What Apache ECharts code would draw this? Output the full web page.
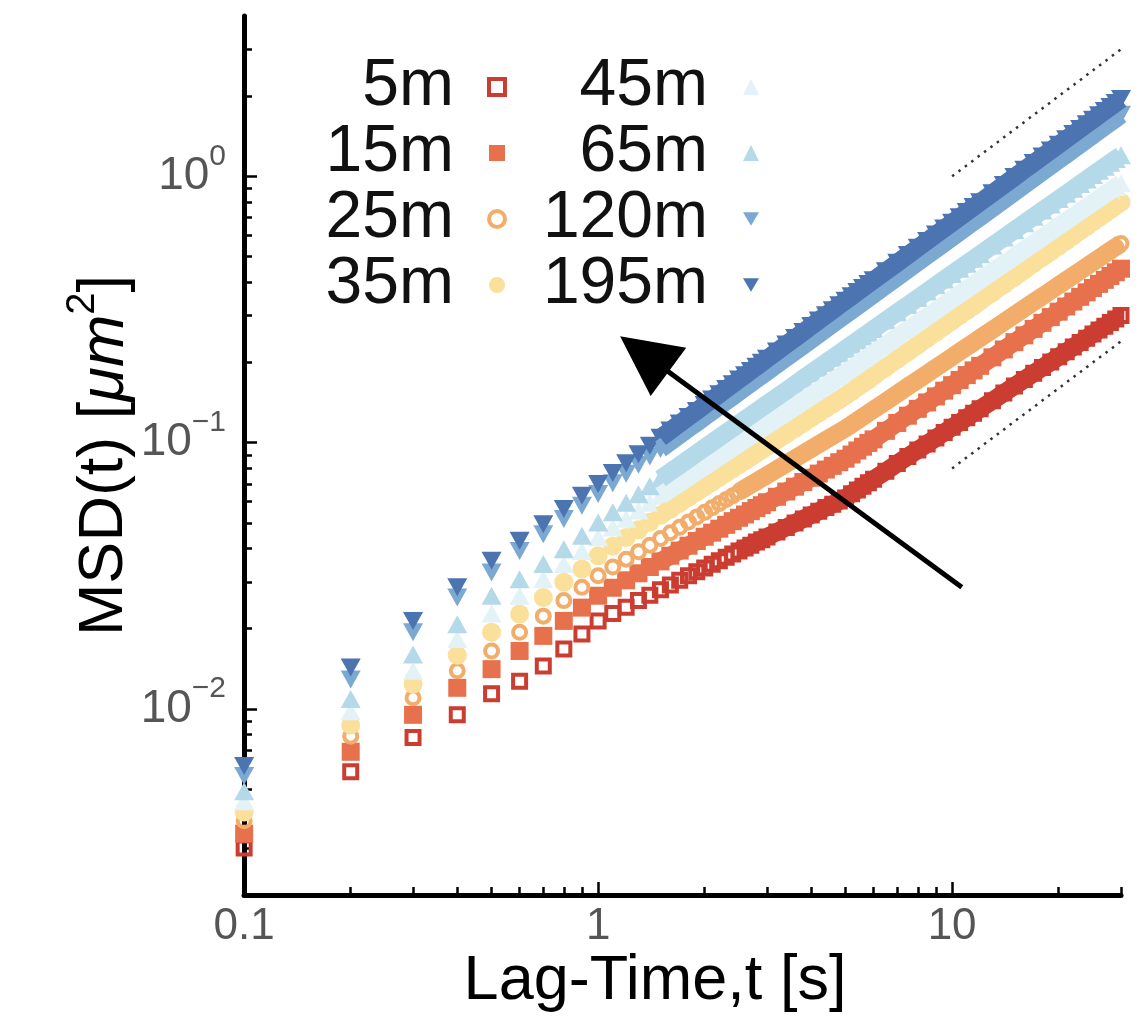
<!DOCTYPE html>
<html><head><meta charset="utf-8">
<script src="https://cdn.jsdelivr.net/npm/echarts@6/dist/echarts.min.js"></script>
<style>html,body{margin:0;padding:0;background:#fff}#c{width:1142px;height:1024px}</style>
</head><body><div id="c"></div>
<script>
// ---- data ----
const lagTime = [0.1,0.2,0.3,0.4,0.5,0.6,0.7,0.8,0.9,1.0,1.1,1.2,1.3,1.4,1.5,1.6,1.7,1.8,1.9,2.0,2.1,2.2,2.3,2.4,2.5,2.6,2.7,2.8,2.9,3.0,3.2,3.4,3.6,3.8,4.0,4.2,4.4,4.6,4.8,5.0,5.2,5.4,5.6,5.8,6.0,6.5,7,7.5,8,8.5,9,9.5,10,10.5,11,11.5,12,13,14,15,16,17,18,19,20,21,22,23,24,25,26,27,28,29,30];

const msd5m = [0.003,0.0058,0.0078,0.0095,0.0114,0.0127,0.0145,0.0168,0.0191,0.0214,
0.0228,0.0241,0.0255,0.0267,0.028,0.0292,0.0304,0.0316,0.0327,0.0338,0.0349,0.036,0.0371,0.0382,0.0392,0.0402,0.0412,0.0423,0.0432,0.0442,
0.0462,0.048,0.0499,0.0517,0.0535,0.0552,0.057,0.0587,0.0603,0.062,0.0642,0.0664,0.0685,0.0707,0.0728,
0.0781,0.0834,0.0886,0.0938,0.0989,0.104,0.1091,0.1141,0.1191,0.1241,0.129,0.134,
0.1437,0.1534,0.163,0.1726,0.182,0.1914,0.2007,0.21,0.2192,0.2284,0.2375,0.2466,0.2556,0.2646,0.2735,0.2824,0.2913,0.3001];

const msd15m = [0.0034,0.0069,0.0095,0.012,0.0141,0.0165,0.0188,0.0214,0.024,0.0266,
0.0285,0.0304,0.0323,0.0341,0.0358,0.0376,0.0393,0.041,0.0427,0.0443,0.0459,0.0475,0.0491,0.0507,0.0522,0.0537,0.0553,0.0568,0.0582,0.0597,
0.0626,0.0655,0.0683,0.0711,0.0738,0.0765,0.0792,0.0818,0.0844,0.087,0.0902,0.0934,0.0965,0.0997,0.1028,
0.1107,0.1185,0.1262,0.1339,0.1415,0.1491,0.1567,0.1643,0.1718,0.1793,0.1867,0.1942,
0.209,0.2237,0.2383,0.2528,0.2673,0.2817,0.296,0.3102,0.3244,0.3386,0.3526,0.3667,0.3806,0.3945,0.4085,0.4223,0.4361,0.4499];

const msd25m = [0.0038,0.0079,0.011,0.0139,0.0165,0.0194,0.0223,0.0255,0.0286,0.0316,
0.0341,0.0365,0.0389,0.0412,0.0436,0.0459,0.0481,0.0503,0.0525,0.0547,0.0569,0.059,0.0611,0.0632,0.0653,0.0674,0.0694,0.0714,0.0734,0.0754,
0.0794,0.0833,0.0872,0.091,0.0948,0.0985,0.1022,0.1058,0.1095,0.1131,0.117,0.1211,0.125,0.129,0.133,
0.1428,0.1526,0.1623,0.1719,0.1815,0.191,0.2004,0.2099,0.2192,0.2285,0.2377,0.247,
0.2653,0.2834,0.3014,0.3193,0.3371,0.3547,0.3722,0.3897,0.4071,0.4244,0.4415,0.4587,0.4756,0.4926,0.5095,0.5263,0.5431,0.5598];

const msd35m = [0.0041,0.0087,0.0124,0.0159,0.0194,0.0227,0.0262,0.0299,0.0335,0.0376,
0.0408,0.044,0.0471,0.0502,0.0533,0.0563,0.0593,0.0623,0.0653,0.0682,0.0712,0.0741,0.077,0.0798,0.0827,0.0855,0.0883,0.0911,0.0939,0.0967,
0.1022,0.1077,0.1131,0.1185,0.1239,0.1292,0.1345,0.1397,0.1449,0.1501,0.1556,0.1612,0.1668,0.1723,0.1779,
0.1916,0.2054,0.2191,0.2327,0.2462,0.2597,0.2732,0.2866,0.3,0.3133,0.3265,0.3398,
0.3662,0.3924,0.4185,0.4446,0.4705,0.4963,0.5219,0.5476,0.5732,0.5986,0.6239,0.6492,0.6746,0.6997,0.7248,0.7499,0.7748,0.7997];

const msd45m = [0.0045,0.0098,0.0139,0.0183,0.0228,0.0266,0.0307,0.035,0.0392,0.0441,
0.048,0.0518,0.0556,0.0594,0.0631,0.0668,0.0705,0.0741,0.0778,0.0814,0.085,0.0885,0.0921,0.0956,0.0991,0.1026,0.1061,0.1096,0.113,0.1165,
0.1233,0.1301,0.1368,0.1435,0.1502,0.1568,0.1634,0.1699,0.1765,0.183,0.1897,0.1964,0.203,0.2096,0.2162,
0.2326,0.2489,0.2651,0.2812,0.2973,0.3132,0.329,0.3448,0.3606,0.3762,0.3918,0.4074,
0.4383,0.469,0.4995,0.5299,0.5601,0.5902,0.6199,0.6497,0.6794,0.709,0.7383,0.7676,0.7968,0.8258,0.8549,0.8838,0.9126,0.9412];

const msd65m = [0.0049,0.0109,0.016,0.0208,0.0266,0.0307,0.035,0.0398,0.0447,0.0501,
0.0548,0.0594,0.064,0.0686,0.0731,0.0777,0.0822,0.0867,0.0912,0.0957,0.1001,0.1046,0.109,0.1134,0.1178,0.1222,0.1266,0.1309,0.1353,0.1396,
0.1483,0.1569,0.1655,0.1741,0.1826,0.1911,0.1996,0.2081,0.2165,0.2249,0.2334,0.2418,0.2501,0.2585,0.2668,
0.2875,0.3081,0.3286,0.349,0.3693,0.3896,0.4098,0.4299,0.45,0.47,0.4898,0.5097,
0.5493,0.5887,0.6278,0.6669,0.7057,0.7444,0.7829,0.8214,0.8598,0.8979,0.9358,0.9738,1.0118,1.0495,1.0872,1.1248,1.1622,1.1996];

const msd120m = [0.0056,0.0129,0.0194,0.0262,0.0325,0.0392,0.0453,0.0516,0.0579,0.0641,
0.0703,0.0764,0.0825,0.0886,0.0947,0.1008,0.1069,0.1129,0.1189,0.125,0.131,0.137,0.143,0.1489,0.1549,0.1609,0.1668,0.1728,0.1787,0.1846,
0.1965,0.2083,0.2201,0.2318,0.2436,0.2553,0.267,0.2787,0.2904,0.302,0.3136,0.3253,0.3369,0.3485,0.3601,
0.389,0.4179,0.4466,0.4753,0.504,0.5326,0.5611,0.5895,0.618,0.6463,0.6747,0.7029,
0.7594,0.8157,0.8718,0.9278,0.9838,1.0396,1.0952,1.1507,1.2063,1.2617,1.317,1.3722,1.4273,1.4825,1.5374,1.5923,1.6472,1.7018];

const msd195m = [0.0061,0.0143,0.0214,0.0286,0.036,0.0428,0.0494,0.0563,0.0631,0.0699,
0.0768,0.0837,0.0905,0.0974,0.1042,0.111,0.1179,0.1247,0.1315,0.1384,0.1452,0.152,0.1588,0.1656,0.1724,0.1791,0.1859,0.1927,0.1995,0.2063,
0.2198,0.2334,0.2468,0.2603,0.2738,0.2873,0.3008,0.3142,0.3277,0.3411,0.3542,0.3676,0.3808,0.394,0.4072,
0.4402,0.4731,0.5059,0.5387,0.5715,0.6042,0.6368,0.6694,0.7019,0.7344,0.7668,0.7993,
0.864,0.9286,0.9931,1.0575,1.1217,1.1859,1.2499,1.3138,1.3778,1.4416,1.5052,1.5689,1.6325,1.696,1.7595,1.8229,1.8862,1.9494];

const legendLeftCol = ['5m','15m','25m','35m'];
const legendRightCol = ['45m','65m','120m','195m'];

const xTickLabels = [0.1, 1, 10];
const xMajorTicks = [1, 10];
const xMinorTicks = [0.2,0.3,0.4,0.5,0.6,0.7,0.8,0.9,2,3,4,5,6,7,8,9,20,30];
const yTickLabels = [0.01, 0.1, 1];
const yMajorTicks = [0.01, 0.1, 1];
const yMinorTicks = [0.003,0.004,0.005,0.006,0.007,0.008,0.009,0.02,0.03,0.04,0.05,0.06,0.07,0.08,0.09,0.2,0.3,0.4,0.5,0.6,0.7,0.8,0.9,2,3];

const guideUpper = [[10, 1], [30, 3]];
const guideLower = [[10, 0.08], [30, 0.24]];
const arrowFrom = [10.65, 0.0286];
const arrowTo = [1.35, 0.215];

// ---- styling ----
const FONT = "'Liberation Sans', Arial, Helvetica, sans-serif";
const DOWN_TRI = 'path://M0,0L20,0L10,17Z';
const BAND_FROM_FILLED = 14; // t = 1.5: filled markers merge into a continuous band
const BAND_FROM_HOLLOW = 24; // t = 2.5: hollow markers merge later

function pts(vals) { return lagTime.map((x, i) => [x, vals[i]]); }

function mk(name, vals, symbol, size, color, hollow) {
  return [
    {
      type: 'line', data: pts(vals).slice(hollow ? BAND_FROM_HOLLOW : BAND_FROM_FILLED),
      symbol: 'none', silent: true, animation: false,
      lineStyle: { color: color, width: 18, cap: 'butt', join: 'round', opacity: 1 },
      emphasis: { disabled: true }
    },
    {
      type: 'scatter', name: name, data: pts(vals),
      symbol: symbol, symbolSize: size,
      itemStyle: hollow ? { color: 'rgba(255,255,255,0)', borderColor: color, borderWidth: 4, opacity: 1 }
                        : { color: color, borderWidth: 0, opacity: 1 },
      emphasis: { disabled: true }, silent: true, animation: false
    }
  ];
}

const series = [].concat(
  mk('5m', msd5m, 'rect', 13, '#cc3d31', true),
  mk('15m', msd15m, 'rect', 18, '#e7714c', false),
  mk('25m', msd25m, 'circle', 13, '#f2ad6a', true),
  mk('35m', msd35m, 'circle', 19, '#fbe09b', false),
  mk('45m', msd45m, 'triangle', [20, 18], '#e3f2f7', false),
  mk('65m', msd65m, 'triangle', [20, 18], '#b4d9e8', false),
  mk('120m', msd120m, DOWN_TRI, [20, 18], '#7ba9d1', false),
  mk('195m', msd195m, DOWN_TRI, [20, 18], '#4b74b1', false),
  [
    {
      type: 'line', data: guideUpper, symbol: 'none', silent: true, animation: false,
      lineStyle: { color: '#333', width: 2.5, type: [2.5, 5.5] }
    },
    {
      type: 'line', data: guideLower, symbol: 'none', silent: true, animation: false,
      lineStyle: { color: '#333', width: 2.5, type: [2.5, 5.5] },
      markLine: {
        silent: true, animation: false, symbol: ['none', 'triangle'], symbolSize: 60,
        label: { show: false },
        lineStyle: { color: '#000', width: 5, type: 'solid' },
        itemStyle: { color: '#000' },
        emphasis: { disabled: true },
        data: [[{ coord: arrowFrom }, { coord: arrowTo }]]
      }
    }
  ]
);

function legendFor(names, rightPx) {
  return {
    data: names, orient: 'vertical', right: rightPx, top: 54, padding: 0, itemGap: 0,
    align: 'right', itemWidth: 16, itemHeight: 16, selectedMode: false,
    itemStyle: { borderWidth: 'inherit' },
    textStyle: { fontFamily: FONT, fontSize: 66, color: '#111', lineHeight: 58, padding: [0, 30, 0, 0] }
  };
}

function yLabel(v) {
  const e = Math.round(Math.log10(v));
  return '{b|10}{s|' + (e === 0 ? '0' : '\u2212' + (-e)) + '}';
}

const axisCommonX = { type: 'log', logBase: 10, min: 0.0999, max: 30, gridIndex: 0, position: 'bottom', splitLine: { show: false } };
const axisCommonY = { type: 'log', logBase: 10, min: 0.002, max: 4, gridIndex: 0, position: 'left', splitLine: { show: false } };

const option = {
  backgroundColor: '#fff',
  animation: false,
  grid: { left: 244, right: 21, top: 16, bottom: 129, containLabel: false, outerBoundsMode: 'none' },
  legend: [legendFor(legendLeftCol, 635), legendFor(legendRightCol, 383)],
  xAxis: [
    Object.assign({}, axisCommonX, {
      axisLine: { show: true, lineStyle: { color: '#000', width: 5 } },
      axisTick: { show: true, inside: true, length: 13, customValues: xMajorTicks, lineStyle: { color: '#000', width: 2.5 } },
      axisLabel: { show: true, customValues: xTickLabels, margin: 10, fontFamily: FONT, fontSize: 44, color: '#555',
        formatter: v => (v < 0.5 ? '0.1' : String(Math.round(v))) },
      name: 'Lag-Time,t [s]', nameLocation: 'middle', nameGap: 55, nameMoveOverlap: false,
      nameTextStyle: { fontFamily: FONT, fontSize: 63, color: '#000', padding: [0, 55, 0, 0] }
    }),
    Object.assign({}, axisCommonX, {
      axisLine: { show: false },
      axisTick: { show: true, inside: true, length: 8, customValues: xMinorTicks, lineStyle: { color: '#000', width: 2.5 } },
      axisLabel: { show: false }
    })
  ],
  yAxis: [
    Object.assign({}, axisCommonY, {
      axisLine: { show: true, lineStyle: { color: '#000', width: 5 } },
      axisTick: { show: true, inside: true, length: 13, customValues: yMajorTicks, lineStyle: { color: '#000', width: 2.5 } },
      axisLabel: { show: true, customValues: yTickLabels, margin: 18, formatter: yLabel,
        rich: {
          b: { fontFamily: FONT, fontSize: 46, color: '#555' },
          s: { fontFamily: FONT, fontSize: 30, color: '#555', padding: [0, 0, 40, 0] }
        } },
      name: 'MSD(t) [{i|\u03bcm}{s|2}]', nameLocation: 'middle', nameRotate: 90, nameGap: 97, nameMoveOverlap: false,
      nameTextStyle: { fontFamily: FONT, fontSize: 63, color: '#000',
        rich: {
          i: { fontFamily: FONT, fontSize: 63, fontStyle: 'italic', color: '#000' },
          s: { fontFamily: FONT, fontSize: 40, color: '#000', padding: [0, 0, 44, 0] }
        } }
    }),
    Object.assign({}, axisCommonY, {
      axisLine: { show: false },
      axisTick: { show: true, inside: true, length: 8, customValues: yMinorTicks, lineStyle: { color: '#000', width: 2.5 } },
      axisLabel: { show: false }
    })
  ],
  series: series
};

const chart = echarts.init(document.getElementById('c'), null, { renderer: 'canvas' });
chart.setOption(option);
</script></body></html>
